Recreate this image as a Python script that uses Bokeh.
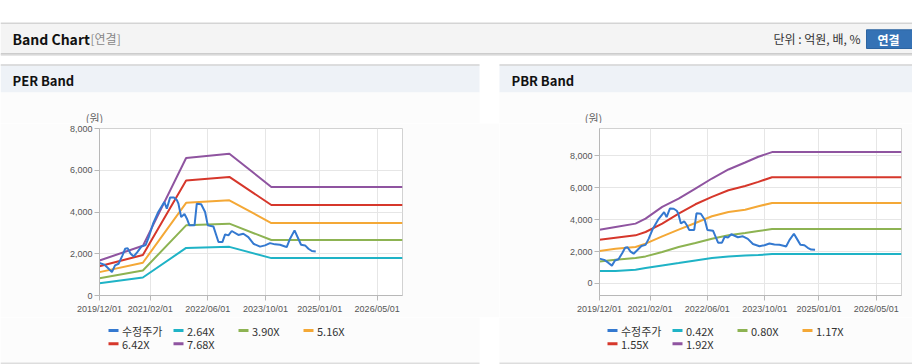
import pandas as pd
from bokeh.plotting import figure
from bokeh.layouts import column, row
from bokeh.models import (Range1d, FixedTicker, DatetimeTickFormatter, NumeralTickFormatter)
from bokeh.core.properties import value
from bokeh.embed import file_html
from bokeh.resources import INLINE

# ---------------- data ----------------
price_label = "수정주가"
price_dates = [
    "2019-12-01", "2020-01-10", "2020-02-10", "2020-03-15", "2020-04-10", "2020-05-10",
    "2020-06-10", "2020-07-05", "2020-07-25", "2020-08-20", "2020-09-15", "2020-10-15",
    "2020-11-20", "2020-12-25", "2021-01-20", "2021-02-25", "2021-04-10", "2021-05-31",
    "2021-06-21", "2021-07-19", "2021-08-20", "2021-09-15", "2021-09-27", "2021-10-20",
    "2021-11-17", "2021-12-10", "2021-12-29", "2022-02-10", "2022-03-01", "2022-04-07",
    "2022-05-10", "2022-06-02", "2022-07-19", "2022-08-31", "2022-10-03", "2022-10-26",
    "2022-11-23", "2022-12-21", "2023-02-15", "2023-03-29", "2023-05-10", "2023-06-22",
    "2023-08-17", "2023-09-28", "2023-11-09", "2023-12-21", "2024-02-01", "2024-03-15",
    "2024-03-29", "2024-04-26", "2024-06-03", "2024-07-05", "2024-07-28", "2024-08-31",
    "2024-09-28", "2024-10-27", "2024-11-29",
]
price_values = [
    1560, 1480, 1320, 1120, 1440, 1520,
    1900, 2240, 2270, 2000, 1870, 2080,
    2350, 2420, 2800, 3440, 4000, 4480,
    4160, 4700, 4690, 4560, 4400, 3760,
    3900, 3650, 3360, 3360, 4400, 4370,
    4000, 3360, 3310, 2560, 2560, 2930,
    2880, 3090, 2900, 2960, 2800, 2480,
    2340, 2400, 2510, 2450, 2430, 2350,
    2320, 2720, 3120, 2720, 2430, 2400,
    2240, 2130, 2110,
]

per_labels = ["2.64X", "3.90X", "5.16X", "6.42X", "7.68X"]
per_dates = ["2019-12-01", "2020-12-01", "2021-12-01", "2022-12-01", "2023-11-20", "2026-12-01"]
per_264 = [590, 860, 2280, 2330, 1792, 1792]
per_390 = [830, 1195, 3360, 3440, 2656, 2656]
per_516 = [1120, 1570, 4440, 4560, 3472, 3472]
per_642 = [1400, 1940, 5510, 5680, 4336, 4336]
per_768 = [1680, 2380, 6590, 6790, 5200, 5200]

pbr_labels = ["0.42X", "0.80X", "1.17X", "1.55X", "1.92X"]
pbr_dates = ["2019-12-01", "2020-04-15", "2020-10-01", "2020-12-25", "2021-05-15", "2021-10-01",
             "2022-02-20", "2022-07-10", "2022-11-27", "2023-04-17", "2023-08-07", "2023-12-01",
             "2026-12-01"]
pbr_042 = [776, 790, 860, 965, 1132, 1279, 1447, 1594, 1699, 1750, 1780, 1845, 1845]
pbr_080 = [1384, 1489, 1594, 1699, 1971, 2286, 2537, 2810, 3020, 3160, 3292, 3418, 3418]
pbr_117 = [2034, 2181, 2286, 2495, 2957, 3376, 3796, 4215, 4488, 4620, 4844, 5054, 5054]
pbr_155 = [2747, 2873, 3020, 3229, 3754, 4383, 4970, 5431, 5851, 6120, 6375, 6668, 6668]
pbr_192 = [3376, 3544, 3754, 4068, 4802, 5326, 5955, 6585, 7151, 7591, 7948, 8241, 8241]

x_tick_labels = ["2019/12/01", "2021/02/01", "2022/06/01", "2023/10/01", "2025/01/01", "2026/05/01"]
y_ticks = [0, 2000, 4000, 6000, 8000]
x_start, x_end = "2019-12-01", "2026-12-01"
per_y_range = (0, 8000)
pbr_y_range = (-754, 9722)
unit_label = "(원)"

header_title = "Band Chart"
header_sub = "[연결]"
header_unit = "단위 : 억원, 배, %"
header_button = "연결"
per_title = "PER Band"
pbr_title = "PBR Band"

# ---------------- style ----------------
FONT_KR = "Noto Sans CJK KR"
FONT_NUM = "Liberation Sans"
price_color = "#3479d0"
band_colors = ["#1fb3c6", "#8db352", "#f4a836", "#d6372b", "#8f54a0"]
PANEL_BG = "#fcfcfc"
HEAD_BG = "#eef2f7"
W = 912
HDR_H = 123      # page rows 0..123
CHART_H = 194    # page rows 123..317
FOOT_H = 47      # page rows 317..364


def to_ms(dates):
    return [pd.Timestamp(d.replace("/", "-")).timestamp() * 1000.0 for d in dates]


tick_ms = to_ms(x_tick_labels)
fmt = "%Y/%m/%d"


def chart(width, left, right, yr, band_dates, band_series):
    p = figure(width=width, height=CHART_H, x_axis_type="datetime",
               x_range=Range1d(to_ms([x_start])[0], to_ms([x_end])[0]),
               y_range=Range1d(*yr), output_backend="svg", toolbar_location=None,
               min_border_left=left, min_border_right=right, min_border_top=5,
               min_border_bottom=22, background_fill_color="white",
               border_fill_color=PANEL_BG, outline_line_color="#d2d2d2")
    p.xaxis.ticker = FixedTicker(ticks=tick_ms)
    p.xaxis.formatter = DatetimeTickFormatter(
        microseconds=fmt, milliseconds=fmt, seconds=fmt, minsec=fmt, minutes=fmt,
        hourmin=fmt, hours=fmt, days=fmt, months=fmt, years=fmt)
    p.yaxis.ticker = FixedTicker(ticks=y_ticks)
    p.yaxis.formatter = NumeralTickFormatter(format="0,0")
    for ax in p.axis:
        ax.axis_line_color = "#b8b8b8"
        ax.major_tick_line_color = "#b8b8b8"
        ax.major_tick_in = 0
        ax.major_tick_out = 5
        ax.minor_tick_line_color = None
        ax.major_label_text_font = FONT_NUM
        ax.major_label_text_font_size = "9px"
        ax.major_label_text_color = "#555555"
    p.xaxis.major_label_standoff = 3
    p.yaxis.major_label_standoff = 2
    p.grid.grid_line_color = "#e6e6e6"

    bd = to_ms(band_dates)
    for vals, col in zip(band_series, band_colors):
        p.line(x=bd, y=vals, line_color=col, line_width=2)
    p.line(x=to_ms(price_dates), y=price_values, line_color=price_color, line_width=2)
    return p


def deco(height, bottom_pad=0, top_pad=0):
    f = figure(width=W, height=height, x_range=Range1d(0, W),
               y_range=Range1d(0, height - top_pad - bottom_pad),
               min_border_left=0, min_border_right=0, min_border_top=top_pad,
               min_border_bottom=bottom_pad, x_axis_location=None, y_axis_location=None,
               output_backend="svg", toolbar_location=None, background_fill_color="white",
               border_fill_color="white", outline_line_color=None)
    f.grid.visible = False
    return f


# ---------------- header (page decoration; data y = 123 - page row) ----------------
hdr = deco(HDR_H, top_pad=22)
hdr.quad(left=[0], right=[W], bottom=[70], top=[101], fill_color="#f4f4f4", line_color=None)
hdr.segment(x0=[0], x1=[W], y0=[100.5], y1=[100.5], line_color="#b4b4b4", line_width=1)
hdr.segment(x0=[0], x1=[W], y0=[69.5], y1=[69.5], line_color="#bdbdbd", line_width=1.5)
hdr.segment(x0=[0], x1=[W], y0=[68.2], y1=[68.2], line_color="#e6e6e6", line_width=1.5)
hdr.text(x=[12], y=[85], text=[header_title], text_font=value(FONT_KR), text_font_style="bold",
         text_font_size="14px", text_baseline="middle", text_color="#111111")
hdr.text(x=[90], y=[85], text=[header_sub], text_font=value(FONT_KR),
         text_font_size="12px", text_baseline="middle", text_color="#888888")
hdr.text(x=[860], y=[85], text=[header_unit], text_font=value(FONT_KR),
         text_font_size="12px", text_baseline="middle", text_align="right",
         text_color="#333333")
hdr.quad(left=[866], right=[918], top=[93.7], bottom=[75], fill_color="#3572b5",
         line_color="#2d64a0")
hdr.text(x=[888], y=[84.5], text=[header_button], text_font=value(FONT_KR),
         text_font_style="bold", text_font_size="12px", text_baseline="middle",
         text_align="center", text_color="white")
hdr.quad(left=[0, 499], right=[479, W], bottom=[31, 31], top=[59, 59],
         fill_color=HEAD_BG, line_color=None)
hdr.segment(x0=[0, 499], x1=[479, W], y0=[58.5, 58.5], y1=[58.5, 58.5],
            line_color="#d4d4d4", line_width=1.5)
hdr.text(x=[12, 511], y=[43, 43], text=[per_title, pbr_title], text_font=value(FONT_KR),
         text_font_style="bold", text_font_size="13px", text_baseline="middle",
         text_color="#111111")
hdr.quad(left=[0, 499], right=[479, W], bottom=[0, 0], top=[31, 31],
         fill_color=PANEL_BG, line_color=None)
hdr.text(x=[94, 593], y=[6, 6], text=[unit_label, unit_label], text_font=value(FONT_KR),
         text_font_size="11px", text_baseline="middle", text_align="center",
         text_color="#666666")

# ---------------- charts ----------------
per_fig = chart(499, 99, 97, per_y_range, per_dates,
                [per_264, per_390, per_516, per_642, per_768])
pbr_fig = chart(413, 100, 11, pbr_y_range, pbr_dates,
                [pbr_042, pbr_080, pbr_117, pbr_155, pbr_192])

# ---------------- legends (data y = 364 - page row) ----------------
foot = deco(FOOT_H)
foot.quad(left=[0, 499], right=[479, W], bottom=[0, 0], top=[FOOT_H, FOOT_H],
          fill_color=PANEL_BG, line_color=None)
foot.segment(x0=[0, 499], x1=[479, W], y0=[1.3, 1.3], y1=[1.3, 1.3],
             line_color="#dddddd", line_width=1.5)
legend_names = [[price_label] + per_labels, [price_label] + pbr_labels]
legend_colors = [price_color] + band_colors
legend_left = [108, 607]
col_step, row_y = 65, [34, 20.7]
for names, x0 in zip(legend_names, legend_left):
    xs = [x0 + col_step * (i % 4) for i in range(len(names))]
    ys = [row_y[i // 4] for i in range(len(names))]
    foot.segment(x0=xs, x1=[x + 10 for x in xs], y0=ys, y1=ys,
                 line_color=legend_colors, line_width=3)
    foot.text(x=[x + 13.5 for x in xs], y=ys, text=names, text_font=value(FONT_KR),
              text_font_size="11px", text_baseline="middle", text_color="#333333")

layout = column(hdr, row(per_fig, pbr_fig), foot)

open("out.html", "w").write(file_html(layout, INLINE))
